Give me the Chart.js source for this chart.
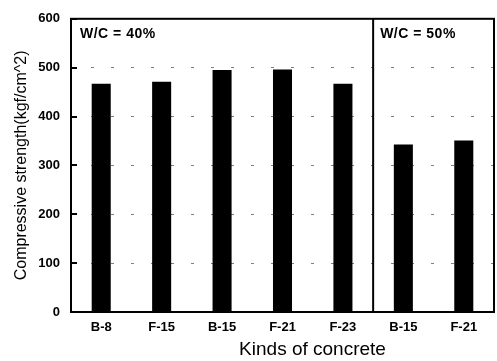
<!DOCTYPE html>
<html>
<head>
<meta charset="utf-8">
<script src="https://cdn.jsdelivr.net/npm/chart.js@4.4.1/dist/chart.umd.min.js"></script>
<style>
  html, body { margin: 0; padding: 0; background: #fff; }
  #wrap { width: 497px; height: 361px; position: relative; }
</style>
</head>
<body>
<div id="wrap"><canvas id="c" width="497" height="361"></canvas></div>
<script>
// Concrete mixes, grouped by water/cement ratio
const categories = ['B-8', 'F-15', 'B-15', 'F-21', 'F-23', 'B-15', 'F-21'];
const strength = [467, 471, 495, 496, 467, 343, 351];
const groupLabels = ['W/C = 40%', 'W/C = 50%'];
const groupStart = [0, 5];
const yTicks = [0, 100, 200, 300, 400, 500, 600];

const FONT = '"Liberation Sans", Arial, sans-serif';

// Frame, inward ticks, group divider and group/axis captions
const decorations = {
  id: 'decorations',
  afterDatasetsDraw(chart) {
    const { ctx, chartArea: a, scales: { x, y } } = chart;
    ctx.save();
    ctx.strokeStyle = '#000';
    ctx.lineWidth = 2;
    ctx.strokeRect(a.left, a.top, a.right - a.left, a.bottom - a.top);

    // inward tick marks on the value axis
    yTicks.forEach(v => {
      const py = Math.round(y.getPixelForValue(v));
      ctx.beginPath();
      ctx.moveTo(a.left, py);
      ctx.lineTo(a.left + 6, py);
      ctx.stroke();
    });

    // divider between the two W/C groups
    const i = groupStart[1];
    const dx = (x.getPixelForValue(i - 1) + x.getPixelForValue(i)) / 2;
    ctx.beginPath();
    ctx.moveTo(dx, a.top);
    ctx.lineTo(dx, a.bottom);
    ctx.stroke();

    // group captions
    ctx.fillStyle = '#000';
    ctx.font = 'bold 14px ' + FONT;
    ctx.letterSpacing = '0.5px';
    ctx.textBaseline = 'middle';
    ctx.textAlign = 'left';
    ctx.fillText(groupLabels[0], a.left + 9, a.top + 15);
    ctx.fillText(groupLabels[1], dx + 7, a.top + 15);

    // category axis caption
    ctx.letterSpacing = '0px';
    ctx.font = '19px ' + FONT;
    ctx.textAlign = 'center';
    ctx.fillText('Kinds of concrete', (a.left + a.right) / 2 + 30, a.bottom + 38);
    ctx.restore();
  }
};

new Chart(document.getElementById('c'), {
  type: 'bar',
  data: {
    labels: categories,
    datasets: [{
      data: strength,
      backgroundColor: '#000',
      borderWidth: 0,
      barPercentage: 0.315,
      categoryPercentage: 1
    }]
  },
  options: {
    responsive: false,
    animation: false,
    devicePixelRatio: 1,
    layout: { padding: { left: 0, right: 3, top: 13, bottom: 0 } },
    plugins: { legend: { display: false }, tooltip: { enabled: false } },
    scales: {
      x: {
        grid: { display: false, drawTicks: false },
        border: { display: false },
        ticks: { color: '#000', font: { family: FONT, size: 13, weight: 'bold' }, padding: 8, maxRotation: 0 },
        afterFit(s) { s.height = 49; }
      },
      y: {
        min: 0,
        max: 600,
        afterBuildTicks(s) { s.ticks = yTicks.map(v => ({ value: v })); },
        grid: { color: '#808080', lineWidth: 1, drawTicks: false },
        border: { display: false, dash: [3, 17] },
        ticks: { color: '#000', font: { family: FONT, size: 13, weight: 'bold' }, padding: 11 },
        title: {
          display: true,
          text: 'Compressive strength(kgf/cm^2)',
          color: '#000',
          font: { family: FONT, size: 16 },
          padding: { top: 12, bottom: 0 }
        },
        afterFit(s) { s.width = 71; }
      }
    }
  },
  plugins: [decorations]
});
</script>
</body>
</html>
